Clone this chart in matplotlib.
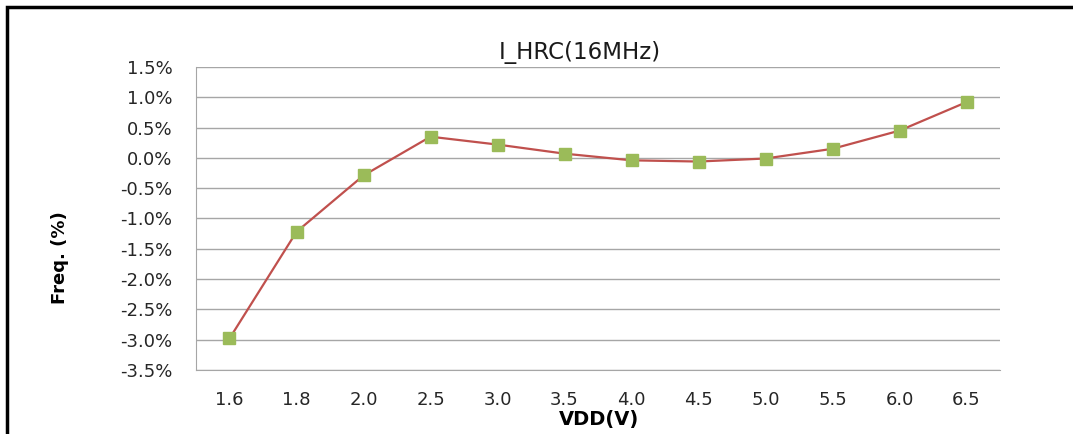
import matplotlib.pyplot as plt
from matplotlib.patches import Rectangle
from matplotlib.ticker import FuncFormatter

plt.rcParams["font.family"] = ["DejaVu Sans"]

vdd = ["1.6", "1.8", "2.0", "2.5", "3.0", "3.5", "4.0", "4.5", "5.0", "5.5", "6.0", "6.5"]
freq = [-2.98, -1.22, -0.29, 0.35, 0.22, 0.07, -0.04, -0.06, -0.01, 0.15, 0.45, 0.92]

fig = plt.figure(figsize=(10.73, 4.34), dpi=100)
W, H = 1073, 434
ax = fig.add_axes([196 / W, 1 - 370 / H, (1000 - 196) / W, (370 - 67) / H])

x = range(len(vdd))
ax.plot(x, freq, color="#C0504D", lw=1.6, zorder=3)
ax.plot(x, freq, ls="none", marker="s", ms=8.5, color="#9BBB59",
        markeredgecolor="#9BBB59", zorder=4)

ax.set_xlim(-0.5, len(vdd) - 0.5)
ax.set_ylim(-3.5, 1.5)
ax.set_yticks([v * 0.5 for v in range(-7, 4)])
ax.yaxis.set_major_formatter(FuncFormatter(lambda v, p: f"{v:.1f}%"))
ax.set_xticks(list(x))
ax.set_xticklabels(vdd)
ax.grid(axis="y", color="#A6A6A6", lw=1)
ax.set_axisbelow(True)
for s in ("top", "right"):
    ax.spines[s].set_visible(False)
for s in ("left", "bottom"):
    ax.spines[s].set_color("#A6A6A6")
ax.tick_params(length=0, labelsize=13, colors="#262626")
ax.tick_params(axis="y", pad=17)
ax.tick_params(axis="x", pad=15)

fig.text(580 / W, 1 - 53 / H, "I_HRC(16MHz)", ha="center", va="center", fontsize=16.5,
         color="#1a1a1a")
fig.text(60 / W, 1 - 258 / H, "Freq. (%)", ha="center", va="center",
         rotation=90, fontsize=13, fontweight="bold")
fig.text(599 / W, 1 - 420 / H, "VDD(V)", ha="center", va="center",
         fontsize=14, fontweight="bold")

fig.patches.append(Rectangle((7 / W, -0.1), 1.2, 1 - 7 / H + 0.1, transform=fig.transFigure,
                             fill=False, edgecolor="black", lw=2.5))

fig.savefig("out.png", dpi=100)
